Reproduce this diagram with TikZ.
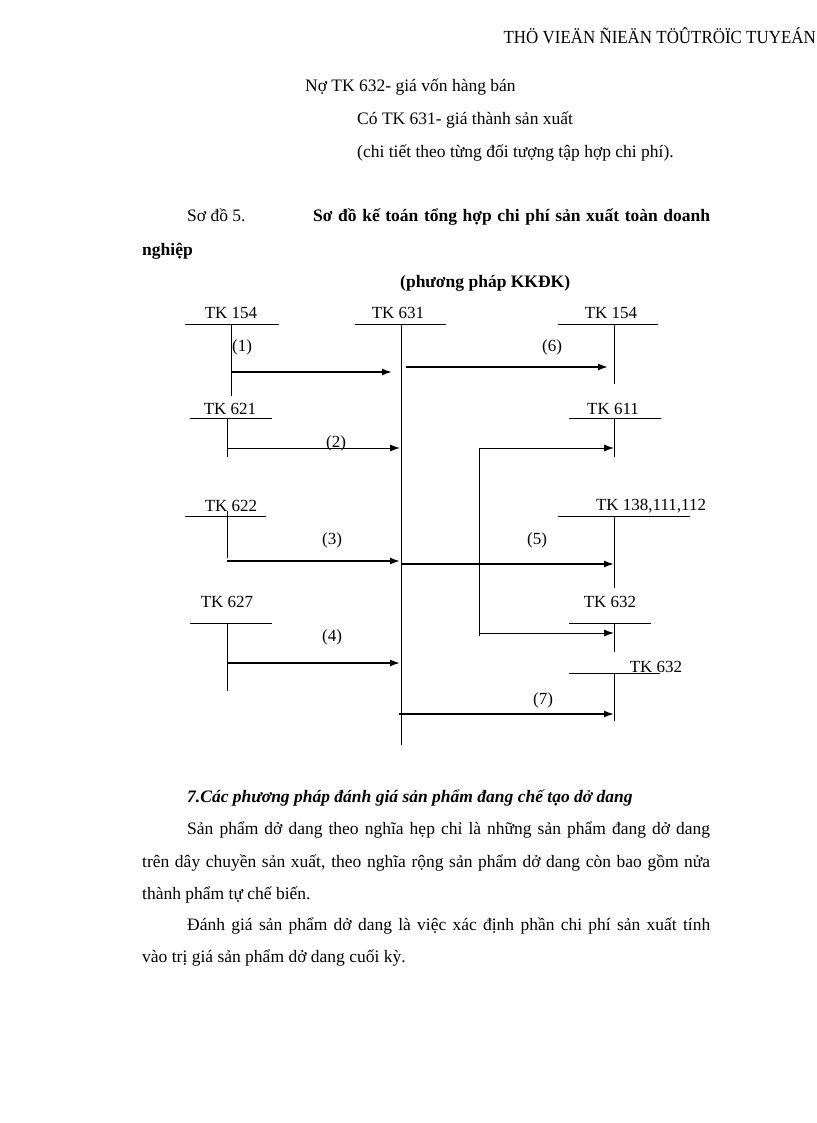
\documentclass[tikz,border=0pt]{standalone}
\usepackage{fontspec}
\usepackage{graphicx}
\setmainfont{Liberation Serif}
\usetikzlibrary{arrows.meta}
\newcommand\txtsize{\fontsize{17.5}{21}\selectfont}
\newcommand\accsize{\fontsize{17}{20}\selectfont}
\begin{document}
\begin{tikzpicture}[x=1pt,y=-1pt]
			\tikzset{txt/.style={font=\txtsize, inner sep=0pt, anchor=base west},
				acct/.style={font=\accsize, inner sep=0pt, anchor=base},
				num/.style={font=\accsize, inner sep=0pt, anchor=base},
				tline/.style={line width=1pt},
				flow/.style={line width=1.6pt, -{Latex[length=10pt,width=7pt]}},
				flowthin/.style={line width=1pt, -{Latex[length=10pt,width=7pt]}}}

			\useasboundingbox[fill=white] (0,0) rectangle (816,1123);

			% Running head
			\node[txt, anchor=base east, font=\fontsize{18.5}{22}\selectfont] (head) at (816,44) {\scalebox{0.915}[1]{THÖ VIEÄN ÑIEÄN TÖÛTRÖÏC TUYEÁN}};

			% Entry text above the scheme
			\node[txt] (no632) at (305,92) {Nợ TK 632- giá vốn hàng bán};
			\node[txt] (co631) at (357,125) {Có TK 631- giá thành sản xuất};
			\node[txt] (chitiet) at (357,158) {(chi tiết theo từng đối tượng tập hợp chi phí).};

			% Title of the scheme
			\node[txt] (sodo) at (187,222) {Sơ đồ 5.};
			\node[txt] (title1) at (313,222) {\bfseries\makebox[397pt][s]{Sơ đồ kế toán tổng hợp chi phí sản xuất toàn doanh}};
			\node[txt] (title2) at (142,255) {\bfseries nghiệp};
			\node[txt] (title3) at (400,287) {\bfseries (phương pháp KKĐK)};

			% TK 154 (left): hole for arrow (1)
			\node[acct] (tk154a) at (231,318) {TK 154};
			\draw[tline] (185,324) -- (279,324);
			\draw[tline] (231,324) -- (231,396);

			% TK 631: the long middle account
			\node[acct] (tk631) at (398,318) {TK 631};
			\draw[tline] (355,324) -- (446,324);
			\draw[tline] (401,324) -- (401,745);

			% TK 154 (right)
			\node[acct] (tk154b) at (611,318) {TK 154};
			\draw[tline] (558,324) -- (658,324);
			\draw[tline] (614,324) -- (614,384);

			% TK 621
			\node[acct] (tk621) at (230,414) {TK 621};
			\draw[tline] (190,418) -- (272,418);
			\draw[tline] (227,418) -- (227,457);

			% TK 611
			\node[acct] (tk611) at (613,414) {TK 611};
			\draw[tline] (569,418) -- (661,418);
			\draw[tline] (614,418) -- (614,457);

			% TK 622
			\node[acct] (tk622) at (231,511) {TK 622};
			\draw[tline] (185,516) -- (266,516);
			\draw[tline] (227,511) -- (227,558);

			% TK 138,111,112
			\node[acct] (tk138) at (651,510) {TK 138,111,112};
			\draw[tline] (558,516) -- (690,516);
			\draw[tline] (614,516) -- (614,588);

			% TK 627
			\node[acct] (tk627) at (227,607) {TK 627};
			\draw[tline] (190,623) -- (272,623);
			\draw[tline] (227,623) -- (227,691);

			% TK 632 (upper)
			\node[acct] (tk632a) at (610,607) {TK 632};
			\draw[tline] (569,623) -- (651,623);
			\draw[tline] (614,623) -- (614,652);

			% TK 632 (lower), text sits on its line
			\node[acct] (tk632b) at (656,672) {TK 632};
			\draw[tline] (569,673) -- (660,673);
			\draw[tline] (614,673) -- (614,721);

			% Arrow ends
			\coordinate (s1) at (231,372);
			\coordinate (e1) at (392,372);
			\coordinate (s2) at (227,448);
			\coordinate (e2) at (400,448);
			\coordinate (s3) at (227,561);
			\coordinate (e3) at (400,561);
			\coordinate (s4) at (227,663);
			\coordinate (e4) at (400,663);
			\coordinate (s6) at (406,367);
			\coordinate (e6) at (608,367);
			\coordinate (s5) at (401,564);
			\coordinate (e5) at (614,564);
			\coordinate (k5) at (479,448);
			\coordinate (f5) at (479,636);
			\coordinate (g5) at (479,633);
			\coordinate (e5a) at (614,448);
			\coordinate (e5b) at (614,633);
			\coordinate (s7) at (399,714);
			\coordinate (e7) at (614,714);

			% Arrows into TK 631
			\draw[flow] (s1) -- (e1);
			\draw[flowthin] (s2) -- (e2);
			\draw[flow] (s3) -- (e3);
			\draw[flow] (s4) -- (e4);

			% Arrows out of TK 631
			\draw[flow] (s6) -- (e6);
			\draw[flow] (s5) -- (e5);
			\draw[tline] (f5) -- (k5);
			\draw[flowthin] (k5) -- (e5a);
			\draw[flowthin] (g5) -- (e5b);
			\draw[flow] (s7) -- (e7);

			% Arrow numbers
			\node[num] (n1) at (242,351) {(1)};
			\node[num] (n2) at (336,447) {(2)};
			\node[num] (n3) at (332,544) {(3)};
			\node[num] (n4) at (332,641) {(4)};
			\node[num] (n5) at (537,544) {(5)};
			\node[num] (n6) at (552,351) {(6)};
			\node[num] (n7) at (543,704) {(7)};

			% Text below the scheme
			\node[txt] (muc7) at (187,802) {\bfseries\itshape 7.Các phương pháp đánh giá sản phẩm đang chế tạo dở dang};
			\node[txt] (p1a) at (187,834) {\makebox[523pt][s]{Sản phẩm dở dang theo nghĩa hẹp chỉ là những sản phẩm đang dở dang}};
			\node[txt] (p1b) at (142,867) {\makebox[568pt][s]{trên dây chuyền sản xuất, theo nghĩa rộng sản phẩm dở dang còn bao gồm nửa}};
			\node[txt] (p1c) at (142,899) {thành phẩm tự chế biến.};
			\node[txt] (p2a) at (187,930) {\makebox[523pt][s]{Đánh giá sản phẩm dở dang là việc xác định phần chi phí sản xuất tính}};
			\node[txt] (p2b) at (142,962) {vào trị giá sản phẩm dở dang cuối kỳ.};
		\end{tikzpicture}
\end{document}
